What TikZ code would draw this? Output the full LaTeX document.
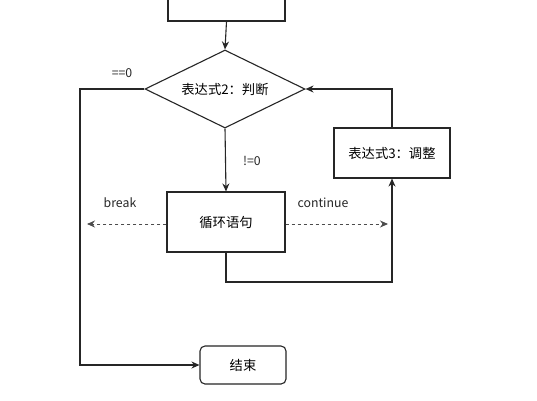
\documentclass[tikz,border=0pt]{standalone}
\usepackage{fontspec}
\setmainfont{Noto Sans CJK SC}
\usetikzlibrary{shapes.geometric,arrows.meta}
\begin{document}
\begin{tikzpicture}[x=1pt,y=-1pt,
  box/.style={draw=black!85,line width=1.1pt,fill=white,inner sep=0pt,font=\fontsize{13.3}{15}\selectfont},
  lbl/.style={font=\fontsize{12.3}{14}\selectfont,inner sep=0pt,text=black!85},
  conn/.style={draw=black!85,line width=1.1pt},
  arr/.style={conn,-{Stealth[length=8pt,width=7pt]}},
  darr/.style={draw=black!70,line width=0.9pt,dashed,-{Stealth[length=8pt,width=7pt]}}]
\useasboundingbox[fill=white] (0,0) rectangle (537,400);
% top box (cut off)
\node[box,minimum width=117pt,minimum height=40pt] (start) at (226.5,1) {};
\node[box,shape=diamond,aspect=2.05,minimum width=160pt,minimum height=78pt] (cond) at (225,89) {表达式2：判断};
\node[box,minimum width=118pt,minimum height=60pt] (body) at (226,222) {循环语句};
\node[box,minimum width=116pt,minimum height=50pt] (adj) at (392,153) {表达式3：调整};
\node[box,rounded corners=5pt,minimum width=86pt,minimum height=38pt] (end) at (243,365) {结束};
% labels
\node[lbl] (l0) at (122,73) {==0};
\node[lbl] (l1) at (252,161) {!=0};
\node[lbl] (lb) at (120,203) {break};
\node[lbl] (lc) at (323,203) {continue};
% coordinates
\coordinate (p1) at (80,89);
\coordinate (p2) at (80,365);
\coordinate (bk) at (87,224);
\coordinate (ct) at (388,224);
\coordinate (q1) at (226,282);
\coordinate (q2) at (392,282);
\coordinate (r1) at (392,89);
% connectors
\draw[arr] (start.south) -- (cond.north);
\draw[arr] (cond.south) -- (body.north);
\draw[arr] (cond.west) -- (p1) -- (p2) -- (end.west);
\draw[darr] (body.west |- bk) -- (bk);
\draw[darr] (body.east |- ct) -- (ct);
\draw[arr] (body.south) -- (q1) -- (q2) -- (adj.south);
\draw[arr] (adj.north) -- (r1) -- (cond.east);
\end{tikzpicture}
\end{document}
